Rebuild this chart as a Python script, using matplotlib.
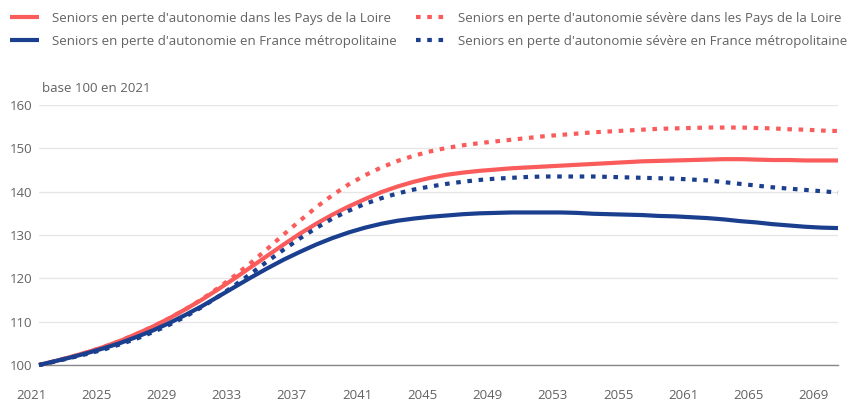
import matplotlib
matplotlib.use("Agg")
import matplotlib.pyplot as plt
import matplotlib.transforms as mtransforms
import numpy as np

plt.rcParams['font.family'] = ['Open Sans', 'DejaVu Sans']

years = list(range(2021, 2071))

pdl = [100.0, 100.9, 101.9, 103.0, 104.2, 105.6, 107.2, 108.9, 110.8, 112.9,
       115.1, 117.5, 120.0, 122.6, 125.2, 127.8, 130.3, 132.6, 134.7, 136.6,
       138.3, 139.9, 141.2, 142.3, 143.2, 143.9, 144.4, 144.8, 145.1, 145.4,
       145.6, 145.8, 146.0, 146.2, 146.4, 146.6, 146.8, 147.0, 147.1, 147.2,
       147.3, 147.4, 147.5, 147.5, 147.4, 147.3, 147.3, 147.2, 147.2, 147.2]

fra = [100.0, 100.9, 101.8, 102.8, 103.9, 105.1, 106.5, 108.0, 109.7, 111.6,
       113.6, 115.8, 118.0, 120.2, 122.3, 124.3, 126.1, 127.8, 129.3, 130.6,
       131.7, 132.6, 133.3, 133.8, 134.2, 134.5, 134.8, 135.0, 135.1, 135.2,
       135.2, 135.2, 135.2, 135.1, 134.9, 134.8, 134.7, 134.6, 134.4, 134.3,
       134.1, 133.9, 133.6, 133.2, 132.9, 132.5, 132.2, 131.9, 131.7, 131.6]

pdl_sev = [100.0, 100.9, 101.9, 103.0, 104.2, 105.6, 107.2, 108.9, 110.8, 112.9,
           115.2, 117.8, 120.6, 123.6, 126.8, 130.1, 133.3, 136.4, 139.2, 141.7,
           143.8, 145.6, 147.1, 148.3, 149.3, 150.1, 150.7, 151.2, 151.6, 152.0,
           152.4, 152.8, 153.1, 153.4, 153.7, 153.9, 154.1, 154.3, 154.5, 154.6,
           154.7, 154.8, 154.8, 154.8, 154.7, 154.6, 154.4, 154.3, 154.1, 154.0]

fra_sev = [100.0, 100.8, 101.7, 102.6, 103.6, 104.8, 106.1, 107.6, 109.3, 111.2,
           113.4, 115.8, 118.4, 121.1, 123.9, 126.6, 129.2, 131.6, 133.8, 135.6,
           137.2, 138.5, 139.6, 140.5, 141.2, 141.8, 142.3, 142.7, 143.0, 143.2,
           143.4, 143.5, 143.5, 143.5, 143.5, 143.4, 143.3, 143.2, 143.1, 143.0,
           142.8, 142.6, 142.2, 141.8, 141.4, 141.0, 140.7, 140.4, 140.1, 139.8]

tick_positions = [2021, 2025, 2029, 2033, 2037, 2041, 2045, 2049, 2053, 2057, 2061, 2065, 2069]
tick_labels = ["2021", "2025", "2029", "2033", "2037", "2041", "2045", "2049",
               "2053", "2055", "2061", "2065", "2069"]
y_ticks = [100, 110, 120, 130, 140, 150, 160]

labels = ["Seniors en perte d'autonomie dans les Pays de la Loire",
          "Seniors en perte d'autonomie en France métropolitaine",
          "Seniors en perte d'autonomie sévère dans les Pays de la Loire",
          "Seniors en perte d'autonomie sévère en France métropolitaine"]

RED = '#FA5B5B'
BLUE = '#1B3F8F'
TXT = '#626262'

W, H = 850, 403
fig = plt.figure(figsize=(W / 100, H / 100), dpi=100)
ax = fig.add_axes([39 / W, 1 - 365 / H, (838 - 39) / W, (365 - 105) / H])

lw = 3.0
dots = (0, (1.1, 1.6))
l1, = ax.plot(years, pdl, color=RED, lw=lw, solid_capstyle='butt', clip_on=False, zorder=4)
l2, = ax.plot(years, fra, color=BLUE, lw=lw, solid_capstyle='butt', clip_on=False, zorder=5)
l3, = ax.plot(years, pdl_sev, color=RED, lw=lw, linestyle=dots, dash_capstyle='butt', clip_on=False, zorder=4)
l4, = ax.plot(years, fra_sev, color=BLUE, lw=lw, linestyle=dots, dash_capstyle='butt', clip_on=False, zorder=5)

ax.set_xlim(2021, 2070)
ax.set_ylim(100, 160)
ax.set_yticks(y_ticks)
ax.set_yticklabels([str(v) for v in y_ticks])
ax.set_xticks(tick_positions)
ax.set_xticklabels(tick_labels)

for s in ['top', 'right', 'left']:
    ax.spines[s].set_visible(False)
ax.spines['bottom'].set_color('#888888')
ax.spines['bottom'].set_linewidth(1.0)
ax.grid(axis='y', color='#E6E6E6', lw=1.0)
ax.set_axisbelow(True)
ax.tick_params(axis='both', length=0, labelsize=9.5, labelcolor=TXT)
ax.tick_params(axis='x', pad=17)
ax.tick_params(axis='y', pad=5)

offset = mtransforms.ScaledTranslation(-8 / 100, 0, fig.dpi_scale_trans)
for lab in ax.get_xticklabels():
    lab.set_transform(lab.get_transform() + offset)

fig.text(42 / W, 1 - 88 / H, "base 100 en 2021", fontsize=9.5, color=TXT, va='center', ha='left')

fig.legend([l1, l2, l3, l4], labels, ncol=2, frameon=False, loc='upper left',
           bbox_to_anchor=(10 / W, 1 - 12 / H), fontsize=9.5, labelcolor=TXT,
           borderpad=0, borderaxespad=0,
           handlelength=2.2, handletextpad=1.0, columnspacing=1.45, labelspacing=0.72)

fig.savefig('out.png', dpi=100)
